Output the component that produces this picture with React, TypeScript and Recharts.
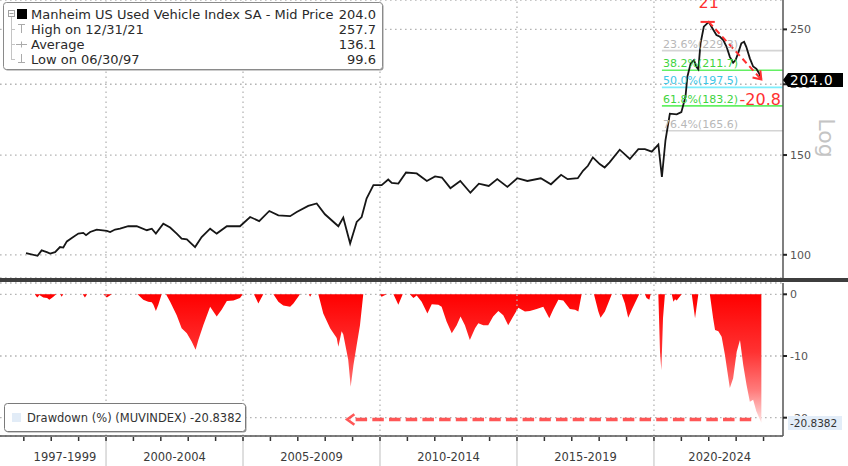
import React from 'react';
import { ComposedChart, Line, Area, XAxis, YAxis, CartesianGrid, ReferenceLine, ReferenceDot } from 'recharts';

const FONT = '"DejaVu Sans", Verdana, sans-serif';

// Manheim index (month-end dates as decimal years)
const LINE_T = [
  1997.08, 1997.5, 1997.65, 1997.84, 1997.96, 1998.14, 1998.32, 1998.44, 1998.57, 1998.75, 1998.99,
  1999.17, 1999.27, 1999.42, 1999.66, 2000.03, 2000.15, 2000.33, 2000.51, 2000.81, 2001.12, 2001.49,
  2001.67, 2001.82, 2002.09, 2002.34, 2002.58, 2002.76, 2002.95, 2003.25, 2003.49, 2003.8, 2004.04,
  2004.41, 2004.89, 2005.26, 2005.59, 2005.96, 2006.29, 2006.72, 2006.96, 2007.38, 2007.69, 2007.99,
  2008.48, 2008.66, 2008.91, 2009.15, 2009.33, 2009.51, 2009.76, 2010.06, 2010.3, 2010.43, 2010.67,
  2010.95, 2011.34, 2011.71, 2012.01, 2012.26, 2012.57, 2012.93, 2013.3, 2013.61, 2013.97, 2014.28,
  2014.65, 2015.01, 2015.38, 2015.87, 2016.24, 2016.61, 2016.85, 2017.22, 2017.41, 2017.59, 2017.77,
  2018.02, 2018.2, 2018.38, 2018.75, 2019.12, 2019.43, 2019.67, 2019.92, 2020.16, 2020.29, 2020.42,
  2020.58, 2020.83, 2021.0, 2021.15, 2021.22, 2021.34, 2021.46, 2021.55, 2021.62, 2021.7, 2021.82,
  2022.0, 2022.1, 2022.28, 2022.41, 2022.53, 2022.65, 2022.77, 2022.89, 2022.98, 2023.07, 2023.19,
  2023.29, 2023.37, 2023.5, 2023.62, 2023.74, 2023.84, 2023.92,
];
const LINE_V = [
  100.7, 99.6, 101.8, 101.1, 100.5, 101.1, 103.2, 103.0, 105.6, 107.1, 109.0,
  109.3, 108.3, 109.7, 110.8, 110.2, 109.7, 110.8, 111.2, 112.3, 112.3, 110.5,
  111.2, 109.0, 113.5, 111.7, 109.0, 106.8, 106.5, 103.2, 107.5, 111.2, 109.0,
  112.3, 112.3, 116.6, 114.7, 119.5, 117.4, 117.0, 119.0, 122.0, 123.2, 117.9,
  112.3, 116.3, 104.7, 114.3, 116.6, 125.7, 132.7, 132.7, 135.8, 133.9, 133.6,
  139.7, 139.2, 135.0, 137.5, 136.9, 131.1, 135.0, 128.7, 133.5, 132.3, 136.0,
  131.8, 136.5, 135.0, 136.5, 133.2, 138.4, 136.0, 136.5, 140.7, 143.6, 148.6,
  144.6, 142.6, 145.6, 153.3, 147.6, 153.7, 153.7, 152.1, 156.5, 137.2, 159.3,
  177.5, 177.0, 178.6, 190.1, 206.2, 217.7, 220.7, 214.7, 212.5, 236.2, 252.7,
  257.7, 252.7, 244.3, 242.6, 239.4, 232.9, 223.6, 218.3, 220.7, 226.8, 236.2,
  237.7, 232.9, 222.2, 215.0, 213.0, 209.0, 204.0,
];

// Drawdown (%) from running high
const DD_T = [
  1997.08, 1997.4, 1997.49, 1997.57, 1997.71, 1997.85, 1997.93, 1998.08, 1998.18, 1998.33, 1998.38,
  1998.44, 1999.15, 1999.23, 1999.31, 1999.9, 2000.03, 2000.21, 2001.15, 2001.36, 2001.54, 2001.67,
  2001.73, 2001.82, 2001.91, 2002.03, 2002.19, 2002.34, 2002.58, 2002.76, 2002.95, 2003.13, 2003.27,
  2003.37, 2003.55, 2003.8, 2004.04, 2004.22, 2004.41, 2004.65, 2004.89, 2004.99, 2005.4, 2005.56,
  2005.74, 2006.11, 2006.29, 2006.47, 2006.72, 2006.84, 2007.08, 2007.4, 2007.45, 2007.5, 2007.75,
  2007.93, 2008.18, 2008.42, 2008.48, 2008.6, 2008.66, 2008.84, 2008.93, 2009.03, 2009.15, 2009.27,
  2009.39, 2009.98, 2010.06, 2010.24, 2010.49, 2010.67, 2010.83, 2011.09, 2011.22, 2011.34, 2011.52,
  2011.73, 2011.89, 2012.13, 2012.25, 2012.43, 2012.62, 2012.8, 2012.94, 2013.1, 2013.28, 2013.47,
  2013.59, 2013.77, 2013.95, 2014.13, 2014.32, 2014.5, 2014.68, 2014.86, 2015.05, 2015.29, 2015.47,
  2015.72, 2015.96, 2016.18, 2016.32, 2016.51, 2016.69, 2016.93, 2017.12, 2017.24, 2017.36, 2017.81,
  2017.97, 2018.05, 2018.21, 2018.46, 2018.82, 2018.94, 2019.06, 2019.19, 2019.46, 2019.67, 2019.73,
  2019.83, 2019.88, 2020.16, 2020.22, 2020.27, 2020.33, 2020.4, 2020.65, 2020.71, 2020.77, 2020.83,
  2021.01, 2021.38, 2021.5, 2021.62, 2022.04, 2022.16, 2022.23, 2022.35, 2022.47, 2022.59, 2022.68,
  2022.77, 2022.89, 2023.02, 2023.14, 2023.26, 2023.38, 2023.5, 2023.62, 2023.74, 2023.92,
];
const DD_V = [
  0, 0, -0.5, -0.1, -0.5, -0.6, -0.9, -0.4, 0, 0, -0.4,
  0, 0, -0.5, 0, 0, -0.5, 0, 0, -0.9, -1.2, -1.3,
  -1.7, -2.7, -1.7, 0, 0, -1.2, -3.4, -5.5, -6.3, -7.7, -9.0,
  -7.4, -5.0, -2.0, -3.6, -2.5, -1.1, -1.0, -0.6, 0, 0, -1.5,
  0, 0, -1.2, -1.8, -2.0, -1.5, 0, 0, -0.4, 0, 0,
  -3.1, -5.5, -7.1, -8.5, -6.0, -6.5, -10.6, -15.0, -11.5, -8.2, -5.0,
  0, 0, -0.4, 0, 0, -1.7, 0, 0, -0.6, -0.2, -1.2,
  -3.1, -1.6, -1.7, -2.0, -4.4, -6.3, -5.0, -3.6, -5.0, -7.4, -5.5,
  -4.7, -5.0, -5.0, -3.6, -2.7, -3.4, -5.0, -3.6, -2.2, -2.8, -2.7,
  -2.4, -2.0, -3.9, -2.5, -0.9, -1.0, -2.4, -2.5, -2.8, 0, 0,
  -2.8, -3.8, -2.8, 0, 0, -1.5, -3.8, -2.5, 0, 0, -0.6,
  -0.9, 0, 0, -9.3, -12.3, -3.9, 0, 0, -1.2, -0.8, -1.0,
  0, 0, -3.9, 0, 0, -3.9, -5.8, -6.0, -6.9, -9.8, -12.5,
  -15.2, -13.6, -9.3, -7.4, -11.5, -14.7, -17.4, -17.1, -19.0, -20.84,
];

const X_DOMAIN: [number, number] = [1996.13, 2024.71];
const PRICE_DOMAIN: [number, number] = [91.0, 281.7];
const DD_DOMAIN: [number, number] = [-22.97, 1.83];
const PRICE_TICKS = [100, 150, 200, 250];
const DD_TICKS = [0, -10, -20];
const GRID_YEARS = [2000, 2005, 2010, 2015, 2020];
const YEAR_TICKS = [
  1997, 1998, 1999, 2000, 2001, 2002, 2003, 2004, 2005, 2006, 2007, 2008, 2009, 2010,
  2011, 2012, 2013, 2014, 2015, 2016, 2017, 2018, 2019, 2020, 2021, 2022, 2023, 2024,
];
const BAND_CENTERS = [1998.5, 2002.5, 2007.5, 2012.5, 2017.5, 2022.4];
const BAND_LABELS = ['1997-1999', '2000-2004', '2005-2009', '2010-2014', '2015-2019', '2020-2024'];

const SERIES_NAME = 'Manheim US Used Vehicle Index SA - Mid Price';
const HIGH_LABEL = 'High on 12/31/21';
const LOW_LABEL = 'Low on 06/30/97';
const HIGH_T = 2022.0;
const HIGH_V = 257.7;
const AVG_V = 136.1;
const LOW_V = 99.6;
const LAST_T = 2023.92;
const LAST_V = 204.0;
const HIGH_NOTE = '21';
const DRAWDOWN_PCT = -20.8;
const DD_LAST = -20.8382;
const DD_NAME = 'Drawdown (%) (MUVINDEX)';
const DD_ARROW_FROM_T = 2023.55;
const DD_ARROW_TO_T = 2008.8;
const DD_ARROW_LEVEL = -20.3;

const FIB_START_T = 2020.29;
const FIB_PCTS = ['23.6%', '38.2%', '50.0%', '61.8%', '76.4%'];
const FIB_VALUES = [229.3, 211.7, 197.5, 183.2, 165.6];
const FIB_TEXT_COLORS = ['#b8b8b8', '#3fd43f', '#3cc6e6', '#3fd43f', '#b8b8b8'];
const FIB_LINE_COLORS = ['#d4d4d4', '#63f063', '#7eeefc', '#63f063', '#d4d4d4'];

const RED = '#ff3030';
const GRID_STYLE = { stroke: '#b4b4b4', strokeDasharray: '1.6 3.4', strokeWidth: 1.3 };

function headPath(x1: number, y1: number, x2: number, y2: number, len: number) {
  const a = Math.atan2(y2 - y1, x2 - x1);
  const s = Math.PI * 0.8;
  return `M${x2 + len * Math.cos(a + s)},${y2 + len * Math.sin(a + s)} L${x2},${y2} L${x2 + len * Math.cos(a - s)},${y2 + len * Math.sin(a - s)}`;
}

function TopArrow(p: any) {
  const { x1, y1, x2, y2 } = p;
  return (
    <g>
      <line x1={x1} y1={y1} x2={x2} y2={y2} stroke={RED} strokeWidth={2} strokeDasharray="6 4" />
      <path d={headPath(x1, y1, x2, y2, 9)} fill="none" stroke={RED} strokeWidth={2} />
    </g>
  );
}

function BottomArrow(p: any) {
  const { x1, y1, x2, y2 } = p;
  return (
    <g opacity={0.85}>
      <line x1={x1} y1={y1} x2={x2 + 3} y2={y2} stroke="#ff3a3a" strokeWidth={3.4} strokeDasharray="11.5 5.2" />
      <path d={headPath(x1, y1, x2, y2, 9)} fill="none" stroke="#ff3a3a" strokeWidth={2.6} />
    </g>
  );
}

function XTick(props: any) {
  const { x, y, payload } = props;
  const v = Number(payload && payload.value);
  const bi = BAND_CENTERS.indexOf(v);
  if (bi >= 0) {
    return (
      <text x={x} y={y + 25} textAnchor="middle" fill="#3a3a3a" fontSize={11.5} fontFamily={FONT}>
        {BAND_LABELS[bi]}
      </text>
    );
  }
  const boundary = GRID_YEARS.indexOf(v) >= 0;
  return (
    <g>
      {boundary && <line x1={x} x2={x} y1={y} y2={y + 31} stroke="#c9c9c9" strokeWidth={1.2} />}
      <line x1={x} x2={x} y1={y + 1} y2={y + 5} stroke="#333" strokeWidth={1.5} />
    </g>
  );
}

const axisTick = { fill: '#555', fontSize: 11, fontFamily: FONT };

export default function App() {
  const lineData = LINE_T.map((t, i) => ({ t, v: LINE_V[i] }));
  const ddData = DD_T.map((t, i) => ({ t, dd: DD_V[i] }));
  const legendRows = [
    { label: SERIES_NAME, value: LAST_V.toFixed(1) },
    { label: HIGH_LABEL, value: HIGH_V.toFixed(1) },
    { label: 'Average', value: AVG_V.toFixed(1) },
    { label: LOW_LABEL, value: LOW_V.toFixed(1) },
  ];
  return (
    <div style={{ position: 'absolute', left: 0, top: 0, width: 848, height: 466, overflow: 'hidden', background: '#fff' }}>
      <div style={{ position: 'absolute', left: 0, top: 0 }}>
        <ComposedChart width={848} height={278} data={lineData} margin={{ top: 0, right: 0, bottom: 0, left: 0 }}>
          <CartesianGrid vertical={false} {...GRID_STYLE} />
          <XAxis type="number" dataKey="t" domain={X_DOMAIN} allowDataOverflow hide />
          <YAxis
            orientation="right"
            width={65}
            scale="log"
            type="number"
            domain={PRICE_DOMAIN}
            allowDataOverflow
            ticks={PRICE_TICKS}
            interval={0}
            tick={axisTick}
            tickLine={{ stroke: '#222', strokeWidth: 2 }}
            tickSize={4}
            tickMargin={3}
            axisLine={{ stroke: '#555', strokeWidth: 1.5 }}
          />
          {GRID_YEARS.map((yr) => (
            <ReferenceLine key={'g' + yr} x={yr} {...GRID_STYLE} />
          ))}
          {FIB_VALUES.map((fv, i) => (
            <ReferenceLine
              key={'f' + i}
              segment={[{ x: FIB_START_T, y: fv }, { x: X_DOMAIN[1], y: fv }]}
              stroke={FIB_LINE_COLORS[i]}
              strokeWidth={1.6}
              ifOverflow="visible"
            />
          ))}
          {FIB_VALUES.map((fv, i) => (
            <ReferenceDot
              key={'fl' + i}
              x={FIB_START_T}
              y={fv}
              r={0}
              ifOverflow="visible"
              shape={(p: any) => (
                <text x={p.cx + 1} y={p.cy - 3} fill={FIB_TEXT_COLORS[i]} fontSize={11} fontFamily={FONT}>
                  {FIB_PCTS[i] + '(' + fv.toFixed(1) + ')'}
                </text>
              )}
            />
          ))}
          <Line
            type="linear"
            dataKey="v"
            stroke="#161616"
            strokeWidth={1.8}
            dot={false}
            activeDot={false}
            legendType="none"
            isAnimationActive={false}
          />
          <ReferenceLine
            segment={[{ x: HIGH_T - 0.3, y: HIGH_V }, { x: HIGH_T + 0.22, y: HIGH_V }]}
            stroke={RED}
            strokeWidth={2}
            ifOverflow="visible"
          />
          <ReferenceLine
            segment={[{ x: HIGH_T, y: HIGH_V }, { x: LAST_T, y: LAST_V }]}
            ifOverflow="visible"
            shape={TopArrow}
          />
          <ReferenceDot
            x={HIGH_T}
            y={HIGH_V}
            r={0}
            ifOverflow="visible"
            shape={(p: any) => (
              <text x={p.cx} y={p.cy - 14} textAnchor="middle" fill={RED} fontSize={16} fontFamily={FONT}>
                {HIGH_NOTE}
              </text>
            )}
          />
          <ReferenceDot
            x={X_DOMAIN[1]}
            y={FIB_VALUES[3]}
            r={0}
            ifOverflow="visible"
            shape={(p: any) => (
              <text x={p.cx - 2} y={p.cy - 0.5} textAnchor="end" fill={RED} fontSize={16} fontFamily={FONT}>
                {DRAWDOWN_PCT.toFixed(1)}
              </text>
            )}
          />
        </ComposedChart>
      </div>

      <div style={{ position: 'absolute', left: 0, top: 279 }}>
        <ComposedChart width={848} height={187} data={ddData} margin={{ top: 4, right: 0, bottom: 0, left: 0 }}>
          <defs>
            <linearGradient id="ddFill" x1="0" y1="0" x2="0" y2="1">
              <stop offset="0" stopColor="#ff0000" />
              <stop offset="0.45" stopColor="#ff3232" />
              <stop offset="0.75" stopColor="#ff7c7c" />
              <stop offset="1" stopColor="#ffe4e4" />
            </linearGradient>
          </defs>
          <CartesianGrid vertical={false} {...GRID_STYLE} />
          <XAxis
            type="number"
            dataKey="t"
            domain={X_DOMAIN}
            allowDataOverflow
            ticks={[...YEAR_TICKS, ...BAND_CENTERS]}
            interval={0}
            height={30}
            tickSize={0}
            tickMargin={0}
            tickLine={false}
            axisLine={{ stroke: '#555', strokeWidth: 1.5 }}
            tick={(p: any) => <XTick {...p} />}
          />
          <YAxis
            orientation="right"
            width={65}
            type="number"
            domain={DD_DOMAIN}
            allowDataOverflow
            ticks={DD_TICKS}
            interval={0}
            tick={axisTick}
            tickLine={{ stroke: '#222', strokeWidth: 2 }}
            tickSize={4}
            tickMargin={3}
            axisLine={{ stroke: '#555', strokeWidth: 1.5 }}
          />
          {GRID_YEARS.map((yr) => (
            <ReferenceLine key={'bg' + yr} x={yr} {...GRID_STYLE} />
          ))}
          <Area
            type="linear"
            dataKey="dd"
            baseValue={0}
            stroke="none"
            fill="url(#ddFill)"
            fillOpacity={1}
            dot={false}
            activeDot={false}
            isAnimationActive={false}
          />
          <ReferenceLine
            segment={[{ x: DD_ARROW_FROM_T, y: DD_ARROW_LEVEL }, { x: DD_ARROW_TO_T, y: DD_ARROW_LEVEL }]}
            ifOverflow="visible"
            shape={BottomArrow}
          />
        </ComposedChart>
      </div>

      <svg width={848} height={466} style={{ position: 'absolute', left: 0, top: 0, pointerEvents: 'none' }}>
        {/* panel divider */}
        <rect x={0} y={278} width={848} height={4} fill="#3e3e3e" />

        {/* top legend */}
        <rect x={4.5} y={3.5} width={379} height={67} rx={3} fill="#9a9a9a" />
        <rect x={3.5} y={2.5} width={379} height={67} rx={3} fill="#fff" stroke="#8a8a8a" />
        <rect x={8.5} y={10.5} width={6} height={6} fill="none" stroke="#a0a0a0" />
        <line x1={9.5} x2={13.5} y1={13.5} y2={13.5} stroke="#a0a0a0" />
        <rect x={17} y={9} width={10} height={10} fill="#000" />
        <line x1={11.5} x2={11.5} y1={17} y2={60} stroke="#c4c4c4" />
        <line x1={11.5} x2={15} y1={29.5} y2={29.5} stroke="#c4c4c4" />
        <line x1={11.5} x2={15} y1={44.5} y2={44.5} stroke="#c4c4c4" />
        <line x1={11.5} x2={15} y1={59.5} y2={59.5} stroke="#c4c4c4" />
        <line x1={18} x2={25} y1={24.5} y2={24.5} stroke="#aaa" />
        <line x1={21.5} x2={21.5} y1={24.5} y2={33} stroke="#aaa" />
        <line x1={16} x2={27} y1={44.5} y2={44.5} stroke="#aaa" />
        <line x1={21.5} x2={21.5} y1={41.5} y2={47.5} stroke="#aaa" />
        <line x1={21.5} x2={21.5} y1={54} y2={62.5} stroke="#aaa" />
        <line x1={18} x2={25} y1={62.5} y2={62.5} stroke="#aaa" />
        {legendRows.map((r, i) => (
          <g key={'lr' + i}>
            <text x={31} y={18.5 + i * 15} fontSize={13} fontFamily={FONT} fill="#2a2a2a">{r.label}</text>
            <text x={376} y={18.5 + i * 15} fontSize={13} fontFamily={FONT} fill="#2a2a2a" textAnchor="end">{r.value}</text>
          </g>
        ))}

        {/* bottom legend */}
        <rect x={5.5} y={404.5} width={241} height={28} rx={3} fill="#9a9a9a" />
        <rect x={4.5} y={403.5} width={241} height={28} rx={3} fill="#fff" stroke="#7a7a7a" />
        <rect x={12} y={413} width={9} height={9} fill="#e2ecf7" />
        <text x={27} y={422} fontSize={11.5} fontFamily={FONT} fill="#333">{DD_NAME + ' ' + DD_LAST.toFixed(4)}</text>

        {/* last price tag */}
        <path d="M783,80 L788,73 L843,73 L843,87 L788,87 Z" fill="#000" />
        <text x={790} y={85} fontSize={13.5} fontFamily={FONT} fill="#fff" letterSpacing={1}>{LAST_V.toFixed(1)}</text>

        {/* last drawdown tag */}
        <rect x={788} y={416} width={54} height={14} fill="#e3edf8" />
        <text x={790} y={427} fontSize={10.5} fontFamily={FONT} fill="#333">{DD_LAST.toFixed(4)}</text>

        {/* axis title */}
        <text x={819} y={138} transform="rotate(90 819 138)" textAnchor="middle" fontSize={22} fontFamily={FONT} fill="#c4c4c4">Log</text>
      </svg>
    </div>
  );
}
